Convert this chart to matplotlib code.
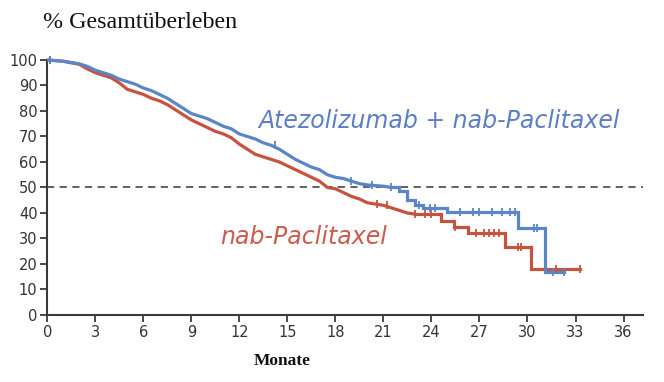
import numpy as np
import matplotlib
matplotlib.use("Agg")
import matplotlib.pyplot as plt

# survival estimates (months, % alive)
atezo_t = [0, 1, 2, 2.5, 3, 3.5, 4, 4.5, 5, 5.5, 6, 6.5, 7, 7.5, 8, 8.5, 9, 9.5,
           10, 10.5, 11, 11.5, 12, 12.5, 13, 13.5, 14, 14.5, 15, 15.5, 16, 16.5,
           17, 17.5, 18, 18.5, 19, 19.5, 20, 21, 21.5, 22, 22.5, 23, 23.5, 25,
           29.4, 31.1, 32.3]
atezo_s = [100, 99.5, 98.5, 97.5, 96, 95, 94, 92.5, 91.5, 90.5, 89, 88, 86.5, 85,
           83, 81, 79, 78, 77, 75.5, 74, 73, 71, 70, 69, 67.5, 66.5, 65, 63, 61,
           59.5, 58, 57, 55, 54, 53.5, 52.5, 51.5, 51, 50.5, 50, 48.5, 45, 43, 42,
           40.3, 34.3, 17.0, 17.0]

nab_t = [0, 1, 2, 2.5, 3, 3.5, 4, 4.5, 5, 5.5, 6, 6.5, 7, 7.5, 8, 8.5, 9, 9.5,
         10, 10.5, 11, 11.5, 12, 12.5, 13, 13.5, 14, 14.5, 15, 15.5, 16, 16.5,
         17, 17.5, 18, 18.5, 19, 19.5, 20, 20.5, 21, 21.5, 22, 22.5, 23, 24.6,
         25.4, 26.3, 28.6, 30.2, 33.3]
nab_s = [100, 99.5, 98.3, 96.5, 95, 94, 93, 91, 88.5, 87.5, 86.5, 85, 84, 82.5,
         80.5, 78.5, 76.5, 75, 73.5, 72, 71, 69.5, 67, 65, 63, 62, 61, 60, 58.5,
         57, 55.5, 54, 52.5, 50, 49.5, 48, 46.5, 45.5, 44, 43.5, 43, 42, 41, 40,
         39.5, 36.9, 34.6, 32.3, 26.8, 17.9, 17.9]

# censoring ticks
atezo_cens = [0.2, 14.2, 19.0, 20.3, 21.5, 23.2, 23.9, 24.2, 25.8, 26.6, 27.0, 27.8,
              28.4, 28.9, 29.2, 30.4, 30.6, 31.6, 32.3]
nab_cens = [0.2, 20.6, 21.2, 23.0, 23.6, 24.0, 25.5, 26.8, 27.3, 27.6, 27.9, 28.2,
            29.4, 29.6, 31.8, 33.3]

# before these times the events are so dense the curve reads as a slope
atezo_dense_end = 21.5
nab_dense_end = 23.0

xticks = np.arange(0, 37, 3)
yticks = np.arange(0, 101, 10)

BLUE = "#5a86c6"
RED = "#c6533e"
AXC = "#3a3a3a"


def surv_at(t, times, surv):
    i = np.searchsorted(times, t, side="right") - 1
    return surv[max(i, 0)]


def draw_km(ax, t, s, dense_end, cens, col):
    t = np.asarray(t, float)
    s = np.asarray(s, float)
    k = np.searchsorted(t, dense_end, side="right")
    ax.plot(t[:k], s[:k], color=col, lw=2.3, clip_on=False, zorder=3,
            solid_joinstyle="round", solid_capstyle="butt")
    ax.step(t[k - 1:], s[k - 1:], where="post", color=col, lw=2.3, clip_on=False,
            zorder=3, solid_joinstyle="miter")
    cy = [surv_at(c, t, s) for c in cens]
    ax.plot(cens, cy, ls="none", marker="|", ms=6, mew=1.3, color=col,
            clip_on=False, zorder=4)


fig = plt.figure(figsize=(6.64, 3.82), dpi=100)
ax = fig.add_axes([0.0712, 0.1754, 0.8968, 0.6676])

ax.axhline(50, color="#555555", lw=1.3, ls=(0, (4, 3)), zorder=1)

draw_km(ax, nab_t, nab_s, nab_dense_end, nab_cens, RED)
draw_km(ax, atezo_t, atezo_s, atezo_dense_end, atezo_cens, BLUE)

ax.text(24.5, 76, "Atezolizumab + nab-Paclitaxel", color="#5b7ec4",
        fontsize=17, style="italic", ha="center", va="center")
ax.text(16.0, 30.6, "nab-Paclitaxel", color="#c95c4d",
        fontsize=17, style="italic", ha="center", va="center")

ax.set_xlim(0, 37.2)
ax.set_ylim(0, 100)
ax.set_xticks(xticks)
ax.set_yticks(yticks)
ax.tick_params(direction="out", length=5, width=1.3, color=AXC,
               labelcolor="#333333", labelsize=10.5, pad=2)
for side in ("top", "right"):
    ax.spines[side].set_visible(False)
for side in ("left", "bottom"):
    ax.spines[side].set_color(AXC)
    ax.spines[side].set_linewidth(1.5)

fig.text(43 / 664, 0.9275, "% Gesamtüberleben", family="Liberation Serif",
         fontsize=17.3, ha="left", va="baseline", color="#111111")
fig.text(282 / 664, 0.0445, "Monate", family="Liberation Serif",
         fontsize=12.5, weight="bold", ha="center", va="baseline", color="#111111")

fig.savefig("out.png", dpi=100)
